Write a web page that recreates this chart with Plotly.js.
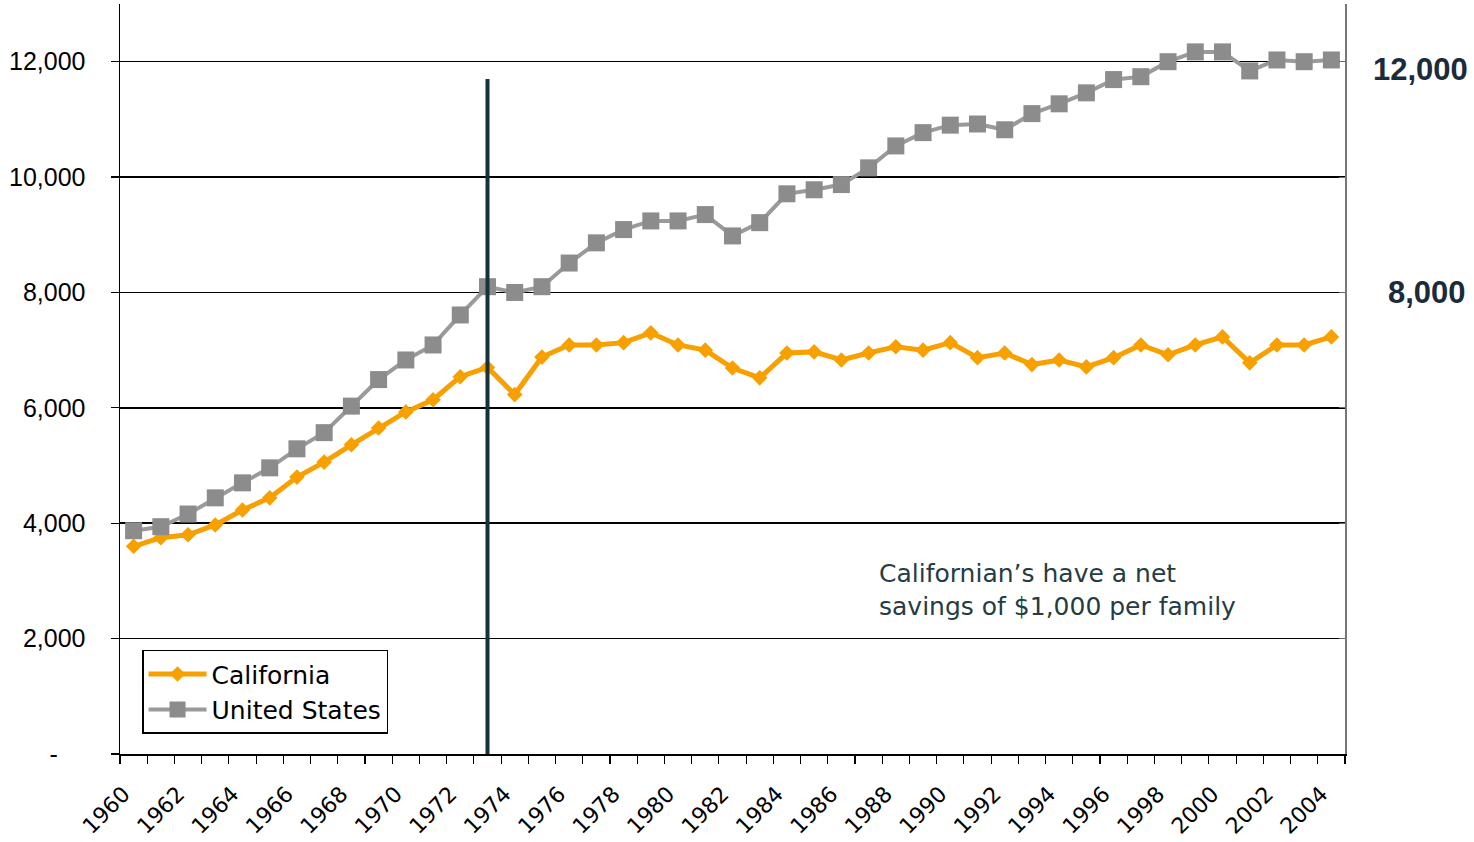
<!DOCTYPE html>
<html>
<head>
<meta charset="utf-8">
<script src="https://cdn.plot.ly/plotly-3.0.1.min.js"></script>
<style>html,body{margin:0;padding:0;background:#fff;}#chart{width:1474px;height:842px;}</style>
</head>
<body>
<div id="chart"></div>
<script>
const years = [1960,1961,1962,1963,1964,1965,1966,1967,1968,1969,1970,1971,1972,1973,1974,1975,1976,1977,1978,1979,1980,1981,1982,1983,1984,1985,1986,1987,1988,1989,1990,1991,1992,1993,1994,1995,1996,1997,1998,1999,2000,2001,2002,2003,2004];
const california = [3600,3750,3800,3970,4230,4440,4800,5060,5360,5650,5930,6140,6540,6700,6230,6880,7090,7090,7130,7300,7090,7000,6690,6520,6950,6970,6830,6950,7060,7000,7130,6870,6950,6750,6830,6710,6870,7090,6920,7090,7230,6780,7090,7090,7230];
const unitedStates = [3870,3940,4160,4440,4700,4960,5290,5570,6030,6490,6830,7090,7610,8100,8000,8100,8510,8860,9090,9240,9240,9350,8980,9210,9710,9780,9870,10160,10540,10770,10900,10920,10820,11100,11270,11460,11690,11740,12000,12170,12170,11840,12030,12000,12030];
const xTickYears = [1960,1962,1964,1966,1968,1970,1972,1974,1976,1978,1980,1982,1984,1986,1988,1990,1992,1994,1996,1998,2000,2002,2004];
const yTickVals = [0,2000,4000,6000,8000,10000,12000];
const yTickText = ['-\u00a0\u00a0\u00a0\u00a0','2,000','4,000','6,000','8,000','10,000','12,000'];
const markerYear = 1973;
const markerTop = 11700;
const rightLabels = ['12,000','8,000'];
const noteText = 'Californian\u2019s have a net<br>savings of $1,000 per family';

const font = 'Liberation Sans, Arial, sans-serif';
const wide = 'DejaVu Sans, Verdana, sans-serif';

const traces = [
  {x: years, y: california, name: 'California', type: 'scatter', mode: 'lines+markers',
   line: {color: '#F7A000', width: 5},
   marker: {symbol: 'diamond', size: 12, color: '#F7A000'}},
  {x: years, y: unitedStates, name: 'United States', type: 'scatter', mode: 'lines+markers',
   line: {color: '#9A9A9A', width: 4},
   marker: {symbol: 'square', size: 17, color: '#8C8C8C'}},
  {x: [years[0]], y: [null], yaxis: 'y2', showlegend: false, hoverinfo: 'skip', type: 'scatter'}
];

const layout = {
  width: 1474, height: 842,
  margin: {l: 120, r: 129, t: 4, b: 88},
  paper_bgcolor: '#ffffff', plot_bgcolor: '#ffffff',
  font: {family: font, size: 24, color: '#000'},
  showlegend: true,
  legend: {x: 0.018, y: 0.139, xanchor: 'left', yanchor: 'top',
           bgcolor: '#ffffff', bordercolor: '#000', borderwidth: 1.5,
           font: {family: wide, size: 25, color: '#000'},
           itemwidth: 58, tracegroupgap: 0},
  xaxis: {
    range: [1959.5, 2004.5], tickmode: 'array', tickvals: xTickYears,
    ticktext: xTickYears.map(String), tickangle: -45,
    ticks: '', showgrid: false, zeroline: false,
    showline: true, linecolor: '#000', linewidth: 1.5,
    tickfont: {family: wide, size: 22, color: '#000'},
    ticklabelshift: -10, ticklabelstandoff: 17,
    minor: {tickmode: 'linear', tick0: 1959.5, dtick: 1, ticks: 'outside', ticklen: 8, tickcolor: '#000', tickwidth: 1.2, showgrid: false}
  },
  yaxis: {
    range: [0, 13000], tickmode: 'array', tickvals: yTickVals, ticktext: yTickText,
    ticks: 'outside', ticklen: 8, tickcolor: '#000', tickwidth: 1.2,
    showgrid: true, gridcolor: '#000', gridwidth: 1.5,
    zeroline: false, showline: true, linecolor: '#000', linewidth: 1.5,
    tickfont: {family: font, size: 25, color: '#000'},
    ticklabelstandoff: 20
  },
  yaxis2: {
    range: [0, 13000], overlaying: 'y', side: 'right', tickmode: 'array', tickvals: yTickVals,
    showticklabels: false, ticks: 'inside', ticklen: 6, tickcolor: '#666',
    showgrid: false, zeroline: false, showline: true, linecolor: '#777', linewidth: 1.5
  },
  shapes: [
    {type: 'line', xref: 'x', yref: 'y', x0: markerYear, x1: markerYear, y0: 0, y1: markerTop,
     line: {color: '#17323C', width: 4}}
  ],
  annotations: [
    {xref: 'paper', yref: 'paper', x: 1.102, y: 0.912, xanchor: 'right', yanchor: 'middle',
     text: rightLabels[0], showarrow: false, font: {family: font, size: 31, color: '#1C2B3A', weight: 'bold'}},
    {xref: 'paper', yref: 'paper', x: 1.100, y: 0.616, xanchor: 'right', yanchor: 'middle',
     text: rightLabels[1], showarrow: false, font: {family: font, size: 31, color: '#1C2B3A', weight: 'bold'}},
    {xref: 'paper', yref: 'paper', x: 0.618, y: 0.219, xanchor: 'left', yanchor: 'middle', align: 'left',
     text: noteText, showarrow: false, font: {family: wide, size: 25, color: '#263C44'}}
  ]
};

Plotly.newPlot('chart', traces, layout, {displayModeBar: false, staticPlot: true});
</script>
</body>
</html>
